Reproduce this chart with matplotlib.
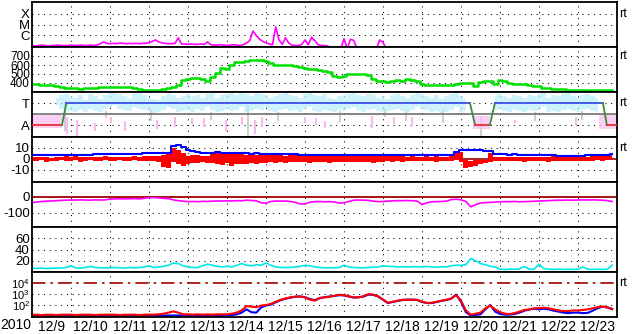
import numpy as np
import matplotlib.pyplot as plt

plt.rcParams['font.family'] = ['Liberation Sans', 'DejaVu Sans']
plt.rcParams['mathtext.fontset'] = 'custom'
plt.rcParams['mathtext.rm'] = 'Liberation Sans'

# time axis: days after 2010-12-09 00:00 UT, 15 days
year_label = '2010'
day_labels = ['12/9', '12/10', '12/11', '12/12', '12/13', '12/14', '12/15', '12/16',
              '12/17', '12/18', '12/19', '12/20', '12/21', '12/22', '12/23']

# X-ray flux, 2-hourly, in units of 1e-7 W/m2
xray_b = [1.0, 0.9, 1.0, 1.1, 1.0, 0.9, 1.0, 1.0, 1.1, 1.0,
          1.0, 1.0, 1.1, 1.0, 1.0, 1.1, 1.0, 1.0, 1.1, 1.0, 1.1,
          1.5, 2.2, 1.6, 1.5, 1.6, 1.5, 1.7, 1.6, 1.5, 1.6, 1.5, 1.6, 1.5,
          1.6, 1.7, 1.8, 2.5, 3.4, 2.2,
          1.8, 1.6, 1.5, 1.5, 1.6, 5.4,
          1.4, 1.4, 1.3, 1.4, 1.3, 1.3, 1.4, 1.3, 2.2,
          1.2, 1.1, 1.1, 1.2, 1.1, 1.0, 1.1, 1.2, 1.1, 1.0, 1.2,
          1.7, 3.0, 24, 9.0, 4.0, 2.5, 1.8, 1.4, 1.2, 60,
          3.4, 1.3, 5.4, 1.7, 1.1, 1.0, 1.0, 1.3, 3.4, 1.2,
          6.0, 3.0, 1.2, 1.0, 1.0, 0.9, 0.5, 0.5, 0.5, 0.5,
          4.5, 0.5, 4.0, 3.0, 0.5, 0.5, 0.5, 0.5, 0.5, 0.5, 0.5, 3.4, 2.0, 0.5]

# the rest are 3-hourly (8 per day)
speed = [385, 385, 382, 380, 378, 365, 350, 345,
         342, 340, 338, 342, 340, 345, 355, 360,
         358, 355, 360, 358, 352, 340, 330, 325,
         320, 322, 325, 330, 340, 350, 380, 430,
         445, 460, 455, 440, 420, 470, 510, 570,
         560, 600, 635, 630, 640, 650, 660, 655,
         640, 620, 605, 600, 595, 600, 590, 580,
         565, 560, 555, 545, 535, 525, 475, 465,
         480, 500, 505, 500, 495, 490, 440, 425,
         420, 415, 420, 430, 425, 440, 435, 420,
         385, 380, 378, 376, 378, 380, 382, 390,
         405, 400, 395, 370, 415, 425, 420, 385,
         435, 420, 395, 390, 388, 385, 375, 370,
         365, 345, 340, 338, 335, 330, 325, 322,
         325, 320, 322, 320, 322, 320, 322, 322]

nan = np.nan
sky_hi = [nan, nan, nan, nan, nan, 1.5, 1.7, 1.8,
          1.6, 1.5, 1.7, 1.3, 1.8, 1.6, 1.4, 1.7,
          1.9, 1.9, 1.8, 1.6, 1.5, 1.8, 1.9, 1.7,
          1.5, 1.4, 1.3, 1.6, 1.8, 1.7, 1.5, 1.6,
          1.8, 1.6, 1.7, 1.5, 1.8, 1.9, 1.5, 1.7,
          1.8, 1.9, 1.7, 1.9, 1.8, 1.6, 1.9, 1.8,
          1.7, 1.5, 1.6, 1.8, 1.9, 1.7, 1.6, 1.5,
          1.8, 1.9, 1.7, 1.6, 1.8, 1.5, 1.4, 1.6,
          1.7, 1.8, 1.9, 1.7, 1.6, 1.8, 1.7, 1.5,
          1.6, 1.4, 1.7, 1.8, 1.6, 1.5, 1.7, 1.9,
          1.8, 1.6, 1.5, 1.7, 1.4, 1.6, 1.8, 1.9,
          1.6, 1.4, nan, nan, nan, nan, nan, 1.7,
          1.8, 1.6, 1.5, 1.7, 1.6, 1.5, 1.7, 1.6,
          1.8, 1.9, 1.5, 1.7, 1.6, 1.8, 1.9, 1.6,
          1.5, 1.7, 1.8, 1.6, 1.5, nan, nan, nan]
sky_lo = [nan, nan, nan, nan, nan, 0.8, 0.5, 0.3,
          0.3, 0.2, 0.4, 0.2, 0.5, 0.3, 0.2, 0.5,
          0.6, 0.8, 0.5, 0.4, 0.3, 0.6, 0.5, 0.4,
          0.3, 0.1, 0.2, 0.4, 0.6, 0.5, 0.2, 0.3,
          0.4, 0.2, 0.5, 0.3, 0.6, 0.4, 0.2, 0.3,
          0.5, 0.3, 0.4, 0.6, 0.2, 0.3, 0.5, 0.4,
          0.6, 0.3, 0.2, 0.4, 0.5, 0.3, 0.4, 0.2,
          0.5, 0.6, 0.3, 0.2, 0.4, 0.3, 0.2, 0.4,
          0.3, 0.5, 0.6, 0.4, 0.2, 0.4, 0.5, 0.3,
          0.2, 0.3, 0.4, 0.5, 0.3, 0.2, 0.4, 0.6,
          0.5, 0.4, 0.2, 0.3, 0.1, 0.2, 0.4, 0.6,
          0.2, 0.3, nan, nan, nan, nan, nan, 0.4,
          0.5, 0.3, 0.2, 0.4, 0.3, 0.2, 0.4, 0.3,
          0.4, 0.6, 0.2, 0.3, 0.2, 0.4, 0.5, 0.3,
          0.2, 0.4, 0.5, 0.3, 0.2, nan, nan, nan]

# away-side points: (start day, end day, top, bottom) and single spikes (day, top, bottom)
pink_bands = [(0.0, 0.77, -0.1, -1.3), (11.3, 11.75, -0.2, -1.4), (14.55, 15.0, -0.1, -1.4)]
pink_spikes = [(0.90, -0.3, -1.8), (1.15, -0.5, -2.0), (1.62, -0.8, -1.5), (2.03, -0.3, -0.8),
               (2.38, -0.6, -1.5), (3.21, -0.5, -1.4), (3.67, -0.3, -1.2), (4.10, -0.4, -0.9),
               (4.41, -0.4, -1.2), (4.97, -0.5, -1.5), (5.38, -0.3, -1.0), (5.72, -0.5, -1.8),
               (5.90, -0.3, -1.2), (7.00, -0.3, -0.8), (7.28, -0.4, -1.0), (7.51, -0.6, -1.3),
               (8.72, -0.2, -1.3), (9.28, -0.3, -0.9), (9.74, -0.3, -1.2), (12.38, -0.5, -0.8),
               (13.95, -0.3, -1.0)]
gray_spikes = [(0.85, 1.2, -1.5), (1.9, 0.3, -0.4), (3.05, 0.4, -0.6), (4.6, 0.2, -0.5),
               (5.55, 0.8, -2.0), (6.3, 0.2, -0.6), (7.9, 0.3, -0.7), (9.05, 0.5, -0.3),
               (9.6, 0.4, -0.6), (10.55, 0.4, -0.8), (11.5, -0.2, -2.0), (12.9, 0.2, -0.6),
               (14.1, 0.3, -0.5)]
# sector: +1 toward, -1 away
sector_t = [0, 0.77, 0.88, 11.23, 11.36, 11.74, 11.87, 14.64, 14.74, 15]
sector_v = [-1, -1, 1, 1, -1, -1, 1, 1, -1, -1]

bt = [3.5, 3.5, 3.3, 3.4, 3.5, 3.6, 3.6, 3.8,
      4.0, 4.0, 3.8, 3.9, 4.0, 4.2, 4.3, 4.3,
      4.5, 4.4, 4.3, 4.4, 4.2, 4.3, 4.5, 5.0,
      5.2, 5.5, 5.0, 5.4, 5.8, 11.5, 12.5, 11.0,
      8.5, 7.5, 6.5, 5.8, 5.5, 5.6, 6.0, 5.5,
      5.4, 5.0, 5.2, 5.0, 5.1, 4.9, 5.0, 4.8,
      4.7, 4.6, 4.5, 4.5, 4.4, 4.3, 4.2, 4.0,
      3.8, 3.7, 3.6, 3.6, 3.5, 3.6, 3.5, 3.5,
      3.6, 3.7, 3.6, 3.5, 3.5, 3.4, 3.5, 3.6,
      3.5, 3.5, 3.4, 3.5, 3.5, 3.6, 3.5, 3.5,
      3.6, 3.6, 3.5, 3.5, 3.6, 3.6, 3.8, 6.0,
      8.5, 8.5, 8.0, 8.0, 7.8, 7.6, 7.0, 4.5,
      4.2, 4.2, 4.0, 4.1, 4.0, 4.0, 4.0, 3.5,
      3.4, 3.4, 3.3, 3.2, 3.0, 3.0, 3.1, 3.0,
      2.9, 3.0, 3.2, 3.3, 3.4, 3.5, 4.0, 4.5]
bz_hi = [2, 1.5, 2, 1.5, 1, 1.5, 2, 2.5,
         2, 2.5, 1.5, 2, 2, 1.5, 2, 2.5,
         1.5, 2, 2, 1.5, 2, 2.5, 2, 3,
         2.5, 2.5, 3, 4, 5, 10, 8, 5,
         3, 3.5, 4, 3, 3, 4.5, 5, 6,
         5, 6, 5, 4.5, 4, 5, 4, 4.5,
         4, 3.5, 4, 3.5, 3, 3.5, 4, 3.5,
         3, 3.5, 3, 3.5, 3, 3.5, 3, 3.5,
         3, 3.5, 3, 3.5, 3, 3, 3.5, 3,
         2.5, 3, 2.5, 3, 2.5, 2, 2.5, 2,
         2, 2.5, 2, 2.5, 2, 2, 3, 7,
         6, -1, -2, -1, -1, -0.5, 5, 2,
         2, 1.5, 2, 1.5, 2, 1.5, 2, 1.5,
         2, 1.5, 2, 2.5, 2, 1.5, 2, 2,
         2, 2.5, 2, 2.5, 3, 3, 4, 5]
bz_lo = [-1.5, -2, -1, -2.5, -1.5, -2, -1, -1.5,
         -2, -1, -2.5, -1.5, -1, -2, -1.5, -1,
         -1.5, -2, -1, -1.5, -2, -1, -1.5, -2,
         -1.5, -2, -3, -7, -8, -3, -5, -6,
         -5, -4, -4, -3, -3.5, -4, -5, -5.5,
         -4, -6, -5, -4.5, -5, -4, -5, -4,
         -3.5, -3, -4, -3, -3.5, -3, -2.5, -3,
         -3, -3.5, -3, -2.5, -3, -3.5, -3, -3,
         -3, -2.5, -3, -3, -2.5, -3, -3.5, -3,
         -2.5, -2, -2.5, -2, -2.5, -2, -1.5, -2,
         -2, -1.5, -2, -2.5, -1.5, -2, -1.5, -1,
         -3, -8, -7, -6, -5, -4, -3, -1.5,
         -2, -1.5, -2, -1.5, -2, -2.5, -1.5, -2,
         -1.5, -2, -2.5, -1.5, -2, -1.5, -2, -1.5,
         -2, -1.5, -2, -1.5, -1, -1.5, -1, 0]

dst = [-37, -34, -30, -28, -27, -25, -23, -22,
       -21, -21, -20, -21, -22, -20, -21, -20,
       -15, -14, -13, -14, -13, -12, -14, -10,
       -6, -5, -8, -11, -12, -20, -25, -28,
       -31, -30, -31, -29, -30, -28, -27, -27,
       -26, -27, -25, -26, -22, -24, -26, -38,
       -41, -30, -27, -28, -27, -30, -35, -46,
       -44, -35, -31, -30, -32, -31, -33, -40,
       -38, -30, -22, -21, -22, -23, -28, -31,
       -30, -28, -26, -25, -25, -24, -26, -27,
       -50, -38, -32, -31, -30, -28, -18, -16,
       -20, -30, -64, -50, -40, -37, -36, -34,
       -32, -31, -31, -30, -32, -31, -30, -29,
       -27, -26, -25, -23, -22, -22, -21, -22,
       -21, -20, -21, -20, -21, -22, -25, -30]

density = [6.5, 6.5, 7, 6, 6.5, 7, 7, 8,
           11, 7, 7, 8, 10, 8, 7.5, 7.5,
           7.5, 8, 7.5, 7, 8, 7.5, 8, 9,
           11, 8, 9, 10, 12, 16, 15, 11,
           9, 8, 8, 11, 14, 12, 10, 9,
           10, 9, 12, 15, 12, 11, 13, 12,
           16, 12, 9, 8, 8, 8, 9, 10,
           12, 11, 9, 8, 7.5, 7.5, 7.5, 8,
           12, 9, 8, 7.5, 7.5, 8, 8.5, 9,
           11, 10, 10, 9, 9.5, 9, 9.5, 9.5,
           9, 10, 9, 8.5, 9.5, 9, 11, 12,
           12, 13, 24, 20, 15, 13, 10, 9,
           5, 4.5, 5, 5, 5.5, 10, 5, 5,
           14, 6, 5, 4.5, 5, 4.5, 5, 4.5,
           5, 9, 5, 4.5, 5, 4.5, 5, 12]

elec_red = [13, 13, 12, 13, 13, 12, 13, 13,
            13, 12, 13, 13, 13, 12, 13, 13,
            13, 13, 12, 13, 13, 13, 12, 13,
            13, 13, 14, 16, 20, 26, 20, 14,
            14, 13, 14, 13, 14, 13, 14, 14,
            14, 16, 20, 32, 80, 71, 63, 89,
            100, 126, 200, 300, 400, 500, 600, 600,
            500, 320, 250, 450, 500, 560, 710, 870,
            800, 630, 500, 500, 630, 1000, 900, 630,
            320, 160, 200, 250, 300, 300, 320, 300,
            200, 160, 160, 200, 250, 300, 400, 800,
            250, 32, 13, 16, 20, 50, 89, 40,
            22, 16, 15, 18, 25, 35, 40, 50,
            52, 56, 50, 40, 32, 28, 28, 32,
            32, 35, 40, 50, 63, 71, 63, 40]
elec_blue = [11, 11, 11, 11, 11, 11, 11, 11,
             11, 11, 11, 11, 11, 11, 11, 11,
             11, 11, 11, 11, 11, 11, 11, 11,
             11, 11, 11, 11, 11, 11, 11, 11,
             11, 11, 11, 11, 11, 11, 11, 11,
             11, 12, 14, 20, 40, 22, 20, 60,
             90, 110, 180, 280, 380, 480, 560, 620,
             520, 350, 280, 420, 520, 600, 680, 800,
             760, 600, 480, 520, 600, 900, 850, 600,
             300, 150, 190, 240, 290, 310, 300, 290,
             190, 150, 150, 190, 240, 290, 380, 900,
             200, 22, 11, 12, 14, 40, 100, 25,
             15, 13, 13, 15, 20, 30, 38, 45,
             40, 45, 40, 30, 25, 20, 18, 20,
             20, 18, 19, 30, 50, 70, 60, 45]

W, H = 633, 334
LEFT, RIGHT, TOP, PANEL_H = 32, 617, 2, 45
DOT = dict(color='black', linestyle=(0, (1, 4.5)), linewidth=0.75, zorder=1)


def make_panel(fig, k):
    ax = fig.add_axes([LEFT / W, 1 - (TOP + PANEL_H * (k + 1)) / H,
                       (RIGHT - LEFT) / W, PANEL_H / H])
    ax.set_xlim(0, 15)
    ax.set_xticks([])
    ax.tick_params(axis='y', length=0, labelsize=9.5, pad=1.5)
    for s in ax.spines.values():
        s.set_linewidth(1.3)
    for d in range(1, 15):
        ax.axvline(d, **DOT)
    return ax


def finish(ax, ticks, labels, grid, rt=None, size=9.5):
    ax.set_yticks(ticks, labels)
    ax.tick_params(axis='y', labelsize=size)
    for g in grid:
        ax.axhline(g, **DOT)
    if rt is not None:
        ax.text(1.004, rt, 'rt', transform=ax.get_yaxis_transform(),
                va='center', ha='left', fontsize=9)


fig = plt.figure(figsize=(W / 100, H / 100), dpi=100)
axs = [make_panel(fig, k) for k in range(7)]
t2 = np.arange(len(xray_b)) / 12
t3 = np.arange(len(speed)) / 8

# X-ray
ax = axs[0]
ax.set_yscale('log')
ax.plot(t2, np.array(xray_b) * 1e-7, color='#ff00ff', lw=1.2, zorder=2)
ax.set_ylim(10 ** -7.14, 10 ** -2.86)
ax.minorticks_off()
finish(ax, [1e-4, 1e-5, 1e-6], ['X', 'M', 'C'], [1e-4, 1e-5, 1e-6], rt=1e-4)

# solar wind speed
ax = axs[1]
ax.plot(t3, speed, color='#00e000', lw=1.8, drawstyle='steps-mid', zorder=2)
ax.set_ylim(300, 800)
finish(ax, [400, 500, 600, 700], ['400', '500', '600', '700'], [400, 500, 600, 700],
       rt=700, size=8.5)

# sector
ax = axs[2]
ax.set_ylim(-2.09, 2.0)
for d, hi, lo in gray_spikes:
    ax.vlines(d, lo, hi, color='#d0d0d0', lw=1.5, zorder=1.5)
ax.fill_between(t3, sky_lo, sky_hi, step='mid', color='#b4ecfa', alpha=0.65, lw=0, zorder=1.6)
for d0, d1, hi, lo in pink_bands:
    ax.fill_between([d0, d1], [lo, lo], [hi, hi], color='#f8c0f0', alpha=0.75, lw=0, zorder=1.7)
for d, hi, lo in pink_spikes:
    ax.vlines(d, lo, hi, color='#f8b8f0', lw=1.5, zorder=1.7)
ax.axhline(0, color='#707070', lw=1.2, zorder=2)
for i in range(len(sector_t) - 1):
    a, b = sector_v[i], sector_v[i + 1]
    c = '#3a50e8' if a == b == 1 else ('#e83030' if a == b == -1 else '#3c8a3c')
    ax.plot(sector_t[i:i + 2], [a, b], color=c, lw=1.3, zorder=3)
finish(ax, [1, -1], ['T', 'A'], [1, -1], rt=1)

# IMF Bt / Bz
ax = axs[3]
ax.set_ylim(-21, 20)
ax.axhline(0, color='#a00000', lw=1.2, zorder=1.5)
ax.fill_between(t3, bz_lo, bz_hi, step='mid', color='#ff0000', lw=0, zorder=2)
ax.plot(t3, bt, color='#0000ff', lw=1.5, drawstyle='steps-mid', zorder=2.5)
finish(ax, [10, 0, -10], ['10', '0', '-10'], [10, -10], rt=10)

# Dst
ax = axs[4]
ax.set_ylim(-190, 92)
ax.axhline(0, color='#a00000', lw=1.3, zorder=2)
ax.plot(t3, dst, color='#ff00ff', lw=1.2, zorder=2.5)
finish(ax, [0, -100], ['0', '-100'], [-100])

# density
ax = axs[5]
ax.set_ylim(0, 80)
ax.plot(t3, density, color='#00e8e8', lw=1.2, zorder=2)
finish(ax, [20, 40, 60], ['20', '40', '60'], [20, 40, 60])

# electron flux
ax = axs[6]
ax.set_yscale('log')
ax.set_ylim(10 ** 0.9, 10 ** 5.03)
ax.minorticks_off()
ax.axhline(1e4, color='#a00000', lw=1.2, linestyle=(0, (8, 3, 1.5, 3)), zorder=2)
ax.plot(t3, elec_red, color='#ff0000', lw=1.5, zorder=2.5)
ax.plot(t3, elec_blue, color='#0000ff', lw=1.5, zorder=2.4)
finish(ax, [1e4, 1e3, 1e2], ['10$^4$', '10$^3$', '10$^2$'], [1e3, 1e2], rt=1e4, size=8)
ax.set_xticks(np.arange(15) + 0.5, day_labels)
ax.tick_params(axis='x', length=0, labelsize=10, pad=2.5)

fig.text(0.0, 1 - 325 / H, year_label, fontsize=10, va='center', ha='left')

fig.savefig('out.png', dpi=100)
